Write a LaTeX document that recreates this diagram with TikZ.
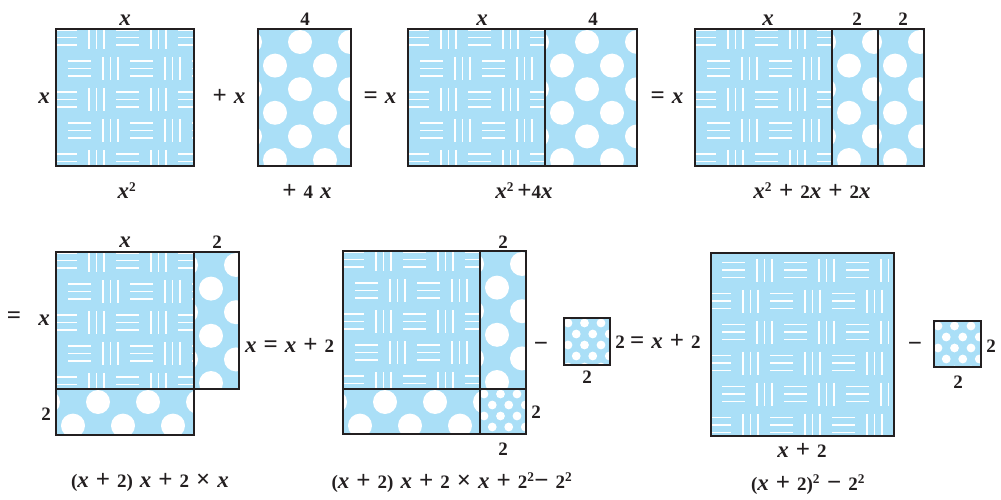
\documentclass[tikz,border=0pt]{standalone}
\usepackage{fontspec}
\setmainfont{Liberation Serif}
\definecolor{skyb}{RGB}{170,223,247}
\definecolor{ink}{RGB}{35,31,32}
\newcommand\vx{{\fontsize{23}{24}\selectfont\textit{x}}}
\newcommand\op[1]{{\fontsize{25}{24}\selectfont #1}}
\newcommand\sq{\textsuperscript{2}}
\newcommand\lblfont{\fontsize{19}{24}\selectfont\bfseries\spaceskip 7pt\relax}
\tikzset{
  lbl/.style={font=\lblfont, text=ink, inner sep=0pt, anchor=base},
  wl/.style={draw=white, line width=1.4pt},
  box/.style={draw=ink, line width=2.4pt},
}
% basket weave: x1,y1,x2,y2,xphase,yphase,oddshift
\newcommand\basket[7]{%
  \begin{scope}
    \clip (#1,#2) rectangle (#3,#4);
    \fill[skyb] (#1,#2) rectangle (#3,#4);
    \foreach \r in {0,...,7}{
      \foreach \c in {-1,...,4}{
        \pgfmathsetmacro\cx{#1+#5+\c*62+#7*mod(\r,2)}
        \pgfmathsetmacro\ry{#2+#6+\r*31}
        \foreach \d in {8,15.5,23}{
          \draw[wl] ({\cx+4},{\ry+\d}) -- ({\cx+27},{\ry+\d});
          \draw[wl] ({\cx+31+\d},{\ry+4}) -- ({\cx+31+\d},{\ry+27});
        }
      }
    }
  \end{scope}}
% big dots
\newcommand\polka[4]{%
  \begin{scope}
    \clip (#1,#2) rectangle (#3,#4);
    \fill[skyb] (#1,#2) rectangle (#3,#4);
    \foreach \r in {0,...,6}{
      \foreach \k in {-1,...,3}{
        \fill[white] ({#1+42-25*mod(\r,2)+50*\k},{#2+13+23.6*\r}) circle (12);
      }
    }
  \end{scope}}
% small dots
\newcommand\smalldots[4]{%
  \begin{scope}
    \clip (#1,#2) rectangle (#3,#4);
    \fill[skyb] (#1,#2) rectangle (#3,#4);
    \foreach \r in {0,...,4}{
      \foreach \k in {-1,...,3}{
        \fill[white] ({#1+4+8.25*mod(\r,2)+16.5*\k},{#2+5+11*\r}) circle (4.4);
      }
    }
  \end{scope}}

\begin{document}
\begin{tikzpicture}[x=1pt,y=-1pt]
\useasboundingbox (0,0) rectangle (1001,500);

% ---------- top row ----------
\basket{56}{29}{194}{166}{-6}{-7}{14}
\draw[box] (56,29) rectangle (194,166);

\polka{258}{29}{351}{166}
\draw[box] (258,29) rectangle (351,166);

\basket{408}{29}{545}{166}{-6}{-7}{14}
\polka{545}{29}{637}{166}
\draw[box] (408,29) rectangle (545,166);
\draw[box] (545,29) rectangle (637,166);

\basket{695}{29}{832}{166}{-6}{-7}{14}
\polka{832}{29}{878}{166}
\polka{878}{29}{924}{166}
\draw[box] (695,29) rectangle (832,166);
\draw[box] (832,29) rectangle (878,166);
\draw[box] (878,29) rectangle (924,166);

\node[lbl] (t1x) at (125,26) {\vx};
\node[lbl] (t1l) at (44,104) {\vx};
\node[lbl] (t1b) at (127,198) {\vx\sq};
\node[lbl] (t2op) at (229,104) {\op{+} \vx};
\node[lbl] (t2t) at (305,26) {4};
\node[lbl] (t2b) at (307,198) {\op{+} 4 \vx};
\node[lbl] (t3op) at (380,104) {\op{=} \vx};
\node[lbl] (t3x) at (482,26) {\vx};
\node[lbl] (t34) at (593,26) {4};
\node[lbl] (t3b) at (524,198) {\vx\sq\,\op{+}4\vx};
\node[lbl] (t4op) at (667,104) {\op{=} \vx};
\node[lbl] (t4x) at (768,26) {\vx};
\node[lbl] (t4a) at (857,26) {2};
\node[lbl] (t4c) at (903,26) {2};
\node[lbl] (t4b) at (812,198) {\vx\sq{} \op{+} 2\vx{} \op{+} 2\vx};

% ---------- bottom left ----------
\basket{56}{252}{194}{389}{-6}{-7}{14}
\polka{194}{252}{239}{389}
\polka{56}{389}{194}{435}
\draw[box] (56,252) rectangle (194,389);
\draw[box] (194,252) rectangle (239,389);
\draw[box] (56,389) rectangle (194,435);

\node[lbl, anchor=center] (beq) at (14,318) {\op{=}};
\node[lbl] (b1x) at (125,247) {\vx};
\node[lbl] (b12) at (217,248) {2};
\node[lbl] (b1l) at (44,325) {\vx};
\node[lbl] (b1l2) at (46,420) {2};
\node[lbl, anchor=base west] (b1r) at (245,352) {\vx{} \op{=} \vx{} \op{+} 2};
\node[lbl] (b1e) at (150,487) {(\vx{} \op{+} 2) \vx{} \op{+} 2 \op{×} \vx};

% ---------- bottom middle ----------
\basket{343}{251}{480}{389}{-6}{-7}{14}
\polka{480}{251}{526}{389}
\polka{343}{389}{480}{434}
\smalldots{480}{389}{526}{434}
\draw[box] (343,251) rectangle (480,389);
\draw[box] (480,251) rectangle (526,389);
\draw[box] (343,389) rectangle (480,434);
\draw[box] (480,389) rectangle (526,434);

\node[lbl] (b2t) at (503,248) {2};
\node[lbl] (b2r) at (536,418) {2};
\node[lbl] (b2u) at (503,455) {2};
\node[lbl, anchor=center] (b2m) at (541,347) {\op{−}};
\smalldots{564}{318}{610}{365}
\draw[box] (564,318) rectangle (610,365);
\node[lbl] (b2sr) at (620,348) {2};
\node[lbl] (b2su) at (587,383) {2};
\node[lbl, anchor=base west] (b2eq) at (630,348) {\op{=} \vx{} \op{+} 2};
\node[lbl] (b2e) at (452,488) {(\vx{} \op{+} 2) \vx{} \op{+} 2 \op{×} \vx{} \op{+} 2\sq\op{−} 2\sq};

% ---------- bottom right ----------
\basket{711}{253}{894}{436}{7}{1.5}{-14}
\draw[box] (711,253) rectangle (894,436);
\node[lbl] (b3x) at (802,457) {\vx{} \op{+} 2};
\node[lbl] (b3e) at (808,490) {(\vx{} \op{+} 2)\sq{} \op{−} 2\sq};
\node[lbl, anchor=center] (b3m) at (915,347) {\op{−}};
\smalldots{934}{321}{981}{367}
\draw[box] (934,321) rectangle (981,367);
\node[lbl] (b3r) at (991,352) {2};
\node[lbl] (b3u) at (958,388) {2};
\end{tikzpicture}
\end{document}
